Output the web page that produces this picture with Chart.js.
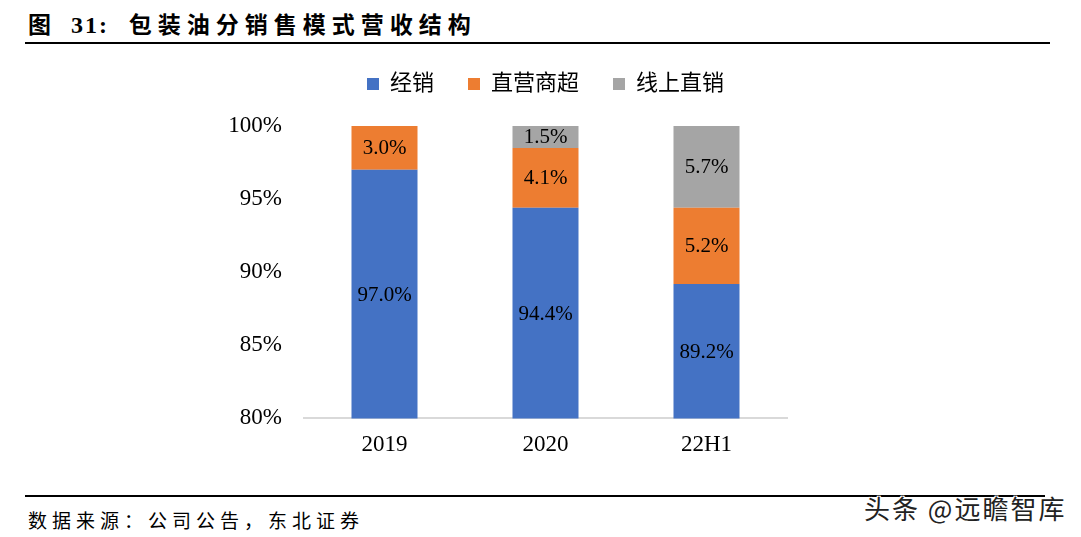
<!DOCTYPE html>
<html>
<head>
<meta charset="utf-8">
<script src="https://cdn.jsdelivr.net/npm/chart.js@4"></script>
<style>
  body { margin: 0; background: #fff; width: 1081px; height: 537px; position: relative; overflow: hidden; }
  #title { position: absolute; left: 28px; top: 6px; font: bold 23px "Liberation Serif", "Noto Sans CJK SC"; color: #000; white-space: pre; }
  #title .num { margin-left: 20px; font-size: 24px; letter-spacing: 2px; }
  #title .cn { letter-spacing: 6px; margin-left: 8px; }
  #topline { position: absolute; left: 25px; top: 42px; width: 1025px; height: 2px; background: #000; }
  #botline { position: absolute; left: 25px; top: 495px; width: 1020px; height: 2px; background: #000; }
  #source { position: absolute; left: 28px; top: 506px; font: 19px "Liberation Serif", "Noto Sans CJK SC"; color: #000; letter-spacing: 5px; }
  #mark { position: absolute; left: 864px; top: 489px; font: 26px "Noto Sans CJK SC", sans-serif; color: #222; letter-spacing: 2px;
          text-shadow: 1px 1px 0 #fff, -1px -1px 0 #fff, 1px -1px 0 #fff, -1px 1px 0 #fff; }
  #wrap { position: absolute; left: 0; top: 39px; width: 1081px; height: 433px; }
</style>
</head>
<body>
<div id="title"><span>图</span><span class="num">31:</span><span class="cn"> 包装油分销售模式营收结构</span></div>
<div id="topline"></div>
<div id="wrap"><canvas id="chart"></canvas></div>
<div id="botline"></div>
<div id="source">数据来源：公司公告，东北证券</div>
<div id="mark">头条 @远瞻智库</div>
<script>
var categories = ['2019', '2020', '22H1'];
var distribution = [97.0, 94.4, 89.2];
var supermarket = [3.0, 4.1, 5.2];
var online = [null, 1.5, 5.7];
var yTicks = [80, 85, 90, 95, 100];

var serif = '"Liberation Serif", "Noto Sans CJK SC"';

// extra room under the legend, and legend centred over the plot
var legendTweak = {
    id: 'legendTweak',
    afterInit: (chart) => {
        var fit = chart.legend.fit;
        chart.legend.fit = function () {
            fit.call(this);
            this.height += 21;
        };
    },
    afterLayout: (chart) => {
        chart.legend.left = chart.chartArea.left;
        chart.legend.right = chart.chartArea.right;
    }
};

var barLabels = {
    id: 'barLabels',
    afterDatasetsDraw: (chart) => {
        var ctx = chart.ctx;
        var area = chart.chartArea;
        ctx.save();
        ctx.font = '21px ' + serif;
        ctx.fillStyle = '#000';
        ctx.textAlign = 'center';
        ctx.textBaseline = 'middle';
        chart.data.datasets.forEach((ds, i) => {
            chart.getDatasetMeta(i).data.forEach((bar, j) => {
                var v = ds.data[j];
                if (v == null) return;
                var top = Math.max(Math.min(bar.y, bar.base), area.top);
                var bottom = Math.min(Math.max(bar.y, bar.base), area.bottom);
                ctx.fillText(v.toFixed(1) + '%', bar.x, (top + bottom) / 2 + 1);
            });
        });
        ctx.restore();
    }
};

var config = {
    type: 'bar',
    data: {
        labels: categories,
        datasets: [
            { label: '经销', data: distribution, backgroundColor: '#4472C4' },
            { label: '直营商超', data: supermarket, backgroundColor: '#ED7D31' },
            { label: '线上直销', data: online, backgroundColor: '#A5A5A5' }
        ]
    },
    options: {
        responsive: true,
        maintainAspectRatio: false,
        animation: false,
        datasets: { bar: { barPercentage: 0.41, categoryPercentage: 1 } },
        layout: { padding: { left: 0, right: 294, top: 0, bottom: 0 } },
        plugins: {
            legend: {
                position: 'top',
                labels: {
                    boxWidth: 12, boxHeight: 12, padding: 34,
                    color: '#000',
                    font: { size: 22, family: serif }
                }
            },
            tooltip: { enabled: false }
        },
        scales: {
            x: {
                stacked: true,
                grid: { display: false, drawTicks: false },
                border: { display: true, color: '#d9d9d9', width: 2 },
                ticks: { color: '#000', padding: 13, font: { size: 23, family: serif } }
            },
            y: {
                stacked: true,
                min: 80, max: 100,
                afterFit: (scale) => { scale.width = 304; },
                afterBuildTicks: (scale) => { scale.ticks = yTicks.map((v) => ({ value: v })); },
                grid: { display: false, drawTicks: false },
                border: { display: false },
                ticks: { color: '#000', padding: 22, font: { size: 23, family: serif }, callback: (v) => v + '%' }
            }
        }
    },
    plugins: [legendTweak, barLabels]
};

var chart = new Chart(document.getElementById('chart').getContext('2d'), config);
</script>
</body>
</html>
